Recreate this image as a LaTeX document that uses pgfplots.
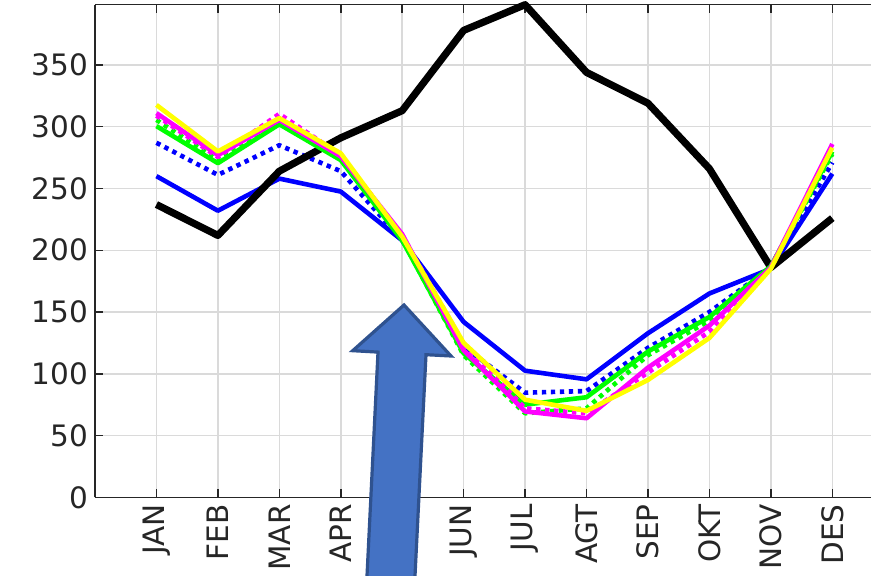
\documentclass[border=0pt]{standalone}
\usepackage{pgfplots}
\pgfplotsset{compat=1.18}
\usepackage{fontspec}
\setmainfont{DejaVu Sans}

\definecolor{axgray}{RGB}{38,38,38}
\definecolor{gridgray}{RGB}{218,218,218}
\definecolor{arrowfill}{RGB}{68,114,196}
\definecolor{arrowedge}{RGB}{47,82,143}
\definecolor{mblue}{RGB}{0,0,255}
\definecolor{mgreen}{RGB}{0,255,0}
\definecolor{mmagenta}{RGB}{255,0,255}
\definecolor{myellow}{RGB}{255,255,0}

% monthly values, month index 1..12
\pgfplotstableread{
m  obs    b      bd     g      gd     mg     mgd    y
1  237    260    287    300.5  305.5  311    309    317.6
2  212    232    261    270.5  273    277    275.5  280
3  264    258    285    302    303    305.5  310.4  307
4  291    247.5  264    273    274    276    277    278.5
5  313    208    208    208    209    213    212    211
6  378    142    122    116.5  115    119    124    125
7  398.8  102.5  84.7   75     68     69.5   72     79
8  344    95.5   86     81     72     64     68     70
9  319    132.8  121    118    115    105    101    95
10 266    165    150    146    143    139    134    129
11 186    185    186    187    187    186    186    185
12 226    262    271    280    278    286    284    283
}\datatable

\begin{document}
\begin{tikzpicture}
\begin{axis}[
  at={(0,0)}, anchor=south west,
  scale only axis,
  width=388pt, height=246.3pt,
  xmin=0, xmax=12.63,
  ymin=0, ymax=398.8,
  axis x line=box, axis y line*=left,
  clip=false,
  xtick={1,...,12},
  xticklabels={JAN,FEB,MAR,APR,MEI,JUN,JUL,AGT,SEP,OKT,NOV,DES},
  ytick={0,50,...,350},
  tick align=inside,
  major tick length=4pt,
  tick style={axgray, line width=0.75pt},
  axis line style={axgray, line width=0.75pt},
  grid=major,
  major grid style={gridgray, line width=0.75pt},
  ticklabel style={font=\fontsize{14.75}{16}\selectfont, text=axgray},
  xticklabel style={rotate=90, anchor=east},
  /pgf/number format/assume math mode=true,
  every axis plot/.append style={line join=round, line cap=butt},
]
\addplot[mblue, line width=2.3pt] table[x=m, y=b] {\datatable};
\addplot[mblue, line width=2.3pt, dash pattern=on 2.2pt off 2.3pt] table[x=m, y=bd] {\datatable};
\addplot[black, line width=3.6pt] table[x=m, y=obs] {\datatable};
\addplot[mgreen, line width=2.3pt, dash pattern=on 2.2pt off 2.3pt] table[x=m, y=gd] {\datatable};
\addplot[mgreen, line width=2.3pt] table[x=m, y=g] {\datatable};
\addplot[mmagenta, line width=2.3pt] table[x=m, y=mg] {\datatable};
\addplot[mmagenta, line width=2.3pt, dash pattern=on 2.2pt off 2.3pt] table[x=m, y=mgd] {\datatable};
\addplot[myellow, line width=2.3pt] table[x=m, y=y] {\datatable};
\end{axis}

% block arrow pointing at May
\filldraw[fill=arrowfill, draw=arrowedge, line width=1.6pt, line join=miter]
  (135.4pt,-51.35pt) -- (141.5pt,72.6pt) -- (128.85pt,73.3pt) --
  (154.5pt,96.15pt) -- (178pt,70.65pt) -- (165.5pt,71.3pt) --
  (159.4pt,-51.35pt) -- cycle;

\pgfresetboundingbox
\path[use as bounding box] (-47.5pt,-39.35pt) rectangle (388pt,248.65pt);
\end{tikzpicture}
\end{document}
